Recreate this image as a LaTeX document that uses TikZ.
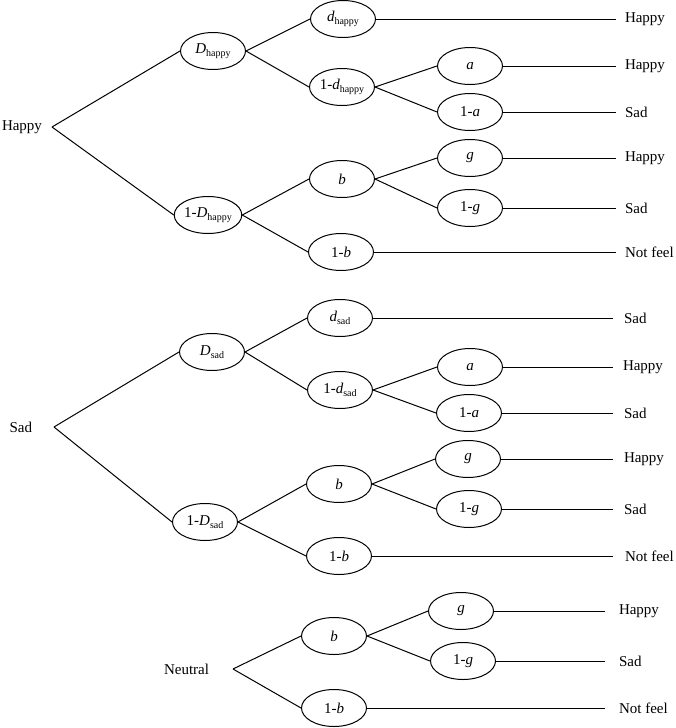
\documentclass[tikz,border=0pt]{standalone}
\usepackage{fontspec}
\setmainfont{Liberation Serif}
\usetikzlibrary{shapes.geometric}
\newcommand{\lsub}[1]{\raisebox{-0.35ex}{\fontsize{10}{10}\selectfont #1}}
\begin{document}
\begin{tikzpicture}[x=1pt,y=-1pt,
  every node/.style={font=\fontsize{15}{18}\selectfont},
  ell/.style={ellipse,draw,minimum width=65pt,minimum height=37pt,inner sep=0pt,line width=1pt},
  lbl/.style={anchor=west,inner ysep=0pt,outer sep=0pt},
  rootlbl/.style={anchor=east,inner ysep=0pt,outer sep=0pt},
  conn/.style={line width=1pt}]
\useasboundingbox (0,0) rectangle (675,728);

% ---------------- Happy tree ----------------
\node[rootlbl,inner xsep=10pt] (hR) at (52,127) {Happy};
\node[ell] (hD)  at (213,51)  {\textit{D}\lsub{happy}};
\node[ell] (hnD) at (208,215) {1-\textit{D}\lsub{happy}};
\node[ell] (hd)  at (343,19)  {\textit{d}\lsub{happy}};
\node[ell] (hnd) at (342,87)  {1-\textit{d}\lsub{happy}};
\node[ell] (ha)  at (470,66)  {\textit{a}};
\node[ell] (hna) at (470,112) {1-\textit{a}};
\node[ell] (hb)  at (342,179) {\textit{b}};
\node[ell] (hg)  at (470,158) {\textit{g}};
\node[ell] (hng) at (470,208) {1-\textit{g}};
\node[ell] (hnb) at (341,252) {1-\textit{b}};
\node[lbl,inner xsep=9pt] (hl1) at (616,19)  {Happy};
\node[lbl,inner xsep=9pt] (hl2) at (616,66)  {Happy};
\node[lbl,inner xsep=9pt] (hl3) at (616,112) {Sad};
\node[lbl,inner xsep=9pt] (hl4) at (616,158) {Happy};
\node[lbl,inner xsep=9pt] (hl5) at (616,208) {Sad};
\node[lbl,inner xsep=9pt] (hl6) at (616,252) {Not feel};
\draw[conn] (hR.east) -- (hD.west);
\draw[conn] (hR.east) -- (hnD.west);
\draw[conn] (hD.east) -- (hd.west);
\draw[conn] (hD.east) -- (hnd.west);
\draw[conn] (hnd.east) -- (ha.west);
\draw[conn] (hnd.east) -- (hna.west);
\draw[conn] (hnD.east) -- (hb.west);
\draw[conn] (hnD.east) -- (hnb.west);
\draw[conn] (hb.east) -- (hg.west);
\draw[conn] (hb.east) -- (hng.west);
\draw[conn] (hd.east) -- (hl1.west);
\draw[conn] (ha.east) -- (hl2.west);
\draw[conn] (hna.east) -- (hl3.west);
\draw[conn] (hg.east) -- (hl4.west);
\draw[conn] (hng.east) -- (hl5.west);
\draw[conn] (hnb.east) -- (hl6.west);

% ---------------- Sad tree ----------------
\node[rootlbl,inner xsep=22pt] (sR) at (54,427) {Sad};
\node[ell] (sD)  at (212,352) {\textit{D}\lsub{sad}};
\node[ell] (snD) at (205,522) {1-\textit{D}\lsub{sad}};
\node[ell] (sd)  at (340,318) {\textit{d}\lsub{sad}};
\node[ell] (snd) at (340,390) {1-\textit{d}\lsub{sad}};
\node[ell] (sa)  at (470,367) {\textit{a}};
\node[ell] (sna) at (469,413) {1-\textit{a}};
\node[ell] (sb)  at (339,484) {\textit{b}};
\node[ell] (sg)  at (468,459) {\textit{g}};
\node[ell] (sng) at (469,509) {1-\textit{g}};
\node[ell] (snb) at (339,556) {1-\textit{b}};
\node[lbl,inner xsep=11pt] (sl1) at (613,318) {Sad};
\node[lbl,inner xsep=10pt] (sl2) at (613,367) {Happy};
\node[lbl,inner xsep=11pt] (sl3) at (613,413) {Sad};
\node[lbl,inner xsep=11pt] (sl4) at (613,459) {Happy};
\node[lbl,inner xsep=11pt] (sl5) at (613,509) {Sad};
\node[lbl,inner xsep=12pt] (sl6) at (613,556) {Not feel};
\draw[conn] (sR.east) -- (sD.west);
\draw[conn] (sR.east) -- (snD.west);
\draw[conn] (sD.east) -- (sd.west);
\draw[conn] (sD.east) -- (snd.west);
\draw[conn] (snd.east) -- (sa.west);
\draw[conn] (snd.east) -- (sna.west);
\draw[conn] (snD.east) -- (sb.west);
\draw[conn] (snD.east) -- (snb.west);
\draw[conn] (sb.east) -- (sg.west);
\draw[conn] (sb.east) -- (sng.west);
\draw[conn] (sd.east) -- (sl1.west);
\draw[conn] (sa.east) -- (sl2.west);
\draw[conn] (sna.east) -- (sl3.west);
\draw[conn] (sg.east) -- (sl4.west);
\draw[conn] (sng.east) -- (sl5.west);
\draw[conn] (snb.east) -- (sl6.west);

% ---------------- Neutral tree ----------------
\node[rootlbl,inner xsep=24pt] (nR) at (233,669) {Neutral};
\node[ell] (nb)  at (334,636) {\textit{b}};
\node[ell] (nnb) at (334,708) {1-\textit{b}};
\node[ell] (ng)  at (461,611) {\textit{g}};
\node[ell] (nng) at (463,661) {1-\textit{g}};
\node[lbl,inner xsep=14pt] (nl1) at (605,611) {Happy};
\node[lbl,inner xsep=14pt] (nl2) at (605,661) {Sad};
\node[lbl,inner xsep=14pt] (nl3) at (605,708) {Not feel};
\draw[conn] (nR.east) -- (nb.west);
\draw[conn] (nR.east) -- (nnb.west);
\draw[conn] (nb.east) -- (ng.west);
\draw[conn] (nb.east) -- (nng.west);
\draw[conn] (ng.east) -- (nl1.west);
\draw[conn] (nng.east) -- (nl2.west);
\draw[conn] (nnb.east) -- (nl3.west);
\end{tikzpicture}
\end{document}
